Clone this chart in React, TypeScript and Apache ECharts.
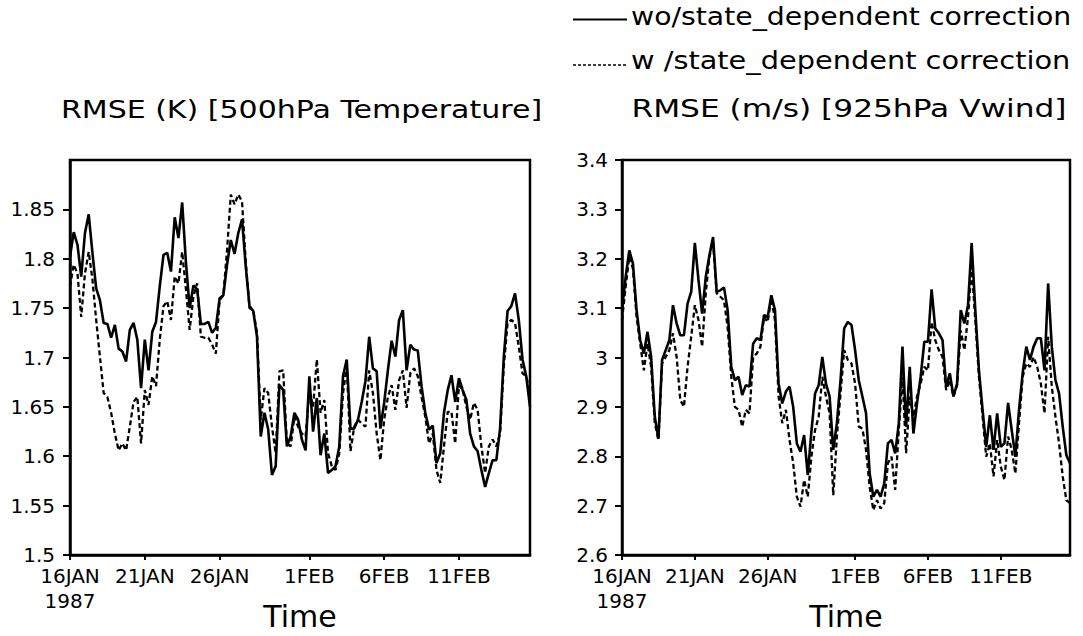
import React, { useEffect, useRef } from 'react';
import * as echarts from 'echarts';

// ---- time axis (6-hourly, 16JAN1987 00Z .. 15FEB1987 18Z) ----
const START_UTC = Date.UTC(1987, 0, 16);
const STEP_HOURS = 6;
const N_STEPS = 124;
const MONTHS = ['JAN', 'FEB', 'MAR', 'APR', 'MAY', 'JUN', 'JUL', 'AUG', 'SEP', 'OCT', 'NOV', 'DEC'];
const categories: string[] = [];
for (let i = 0; i < N_STEPS; i++) {
  const d = new Date(START_UTC + i * STEP_HOURS * 3600000);
  categories.push(
    `${String(d.getUTCHours()).padStart(2, '0')}Z${d.getUTCDate()}${MONTHS[d.getUTCMonth()]}${d.getUTCFullYear()}`
  );
}
const xTickLabels = ['16JAN', '21JAN', '26JAN', '1FEB', '6FEB', '11FEB'];
const firstYear = '1987';

const yTicksLeft = [1.5, 1.55, 1.6, 1.65, 1.7, 1.75, 1.8, 1.85];
const yTicksRight = [2.6, 2.7, 2.8, 2.9, 3.0, 3.1, 3.2, 3.3, 3.4];

const legendNames = ['wo/state_dependent correction', 'w /state_dependent correction'];
const panelTitles = ['RMSE (K) [500hPa Temperature]', 'RMSE (m/s) [925hPa Vwind]'];

// ---- 500hPa temperature RMSE (K) ----
const t500Without = [
  1.802, 1.827, 1.814, 1.782, 1.826, 1.845, 1.806, 1.770, 1.758, 1.735,
  1.734, 1.720, 1.733, 1.709, 1.706, 1.696, 1.728, 1.735, 1.718, 1.669,
  1.718, 1.687, 1.726, 1.736, 1.772, 1.804, 1.806, 1.787, 1.842, 1.821,
  1.857, 1.796, 1.750, 1.773, 1.769, 1.734, 1.734, 1.736, 1.725, 1.730,
  1.760, 1.763, 1.794, 1.819, 1.805, 1.826, 1.840, 1.792, 1.752, 1.747,
  1.721, 1.620, 1.644, 1.627, 1.581, 1.590, 1.672, 1.667, 1.610, 1.620,
  1.644, 1.637, 1.617, 1.606, 1.681, 1.625, 1.659, 1.601, 1.623, 1.583,
  1.586, 1.590, 1.610, 1.681, 1.698, 1.628, 1.628, 1.637, 1.655, 1.676,
  1.721, 1.689, 1.686, 1.628, 1.654, 1.687, 1.717, 1.701, 1.738, 1.748,
  1.687, 1.713, 1.708, 1.707, 1.671, 1.644, 1.627, 1.631, 1.593, 1.603,
  1.644, 1.667, 1.682, 1.655, 1.679, 1.667, 1.657, 1.623, 1.610, 1.605,
  1.586, 1.569, 1.583, 1.596, 1.596, 1.628, 1.701, 1.747, 1.752, 1.765,
  1.738, 1.698, 1.681, 1.650,
];
const t500With = [
  1.772, 1.794, 1.785, 1.741, 1.785, 1.807, 1.779, 1.738, 1.701, 1.664,
  1.660, 1.644, 1.623, 1.606, 1.613, 1.606, 1.630, 1.655, 1.660, 1.613,
  1.667, 1.652, 1.681, 1.671, 1.718, 1.752, 1.757, 1.738, 1.782, 1.775,
  1.807, 1.769, 1.728, 1.762, 1.775, 1.721, 1.720, 1.720, 1.713, 1.704,
  1.758, 1.763, 1.809, 1.865, 1.855, 1.865, 1.858, 1.796, 1.750, 1.748,
  1.725, 1.637, 1.669, 1.664, 1.630, 1.603, 1.686, 1.687, 1.613, 1.610,
  1.640, 1.630, 1.623, 1.620, 1.667, 1.650, 1.698, 1.644, 1.657, 1.603,
  1.590, 1.586, 1.603, 1.664, 1.691, 1.605, 1.630, 1.637, 1.633, 1.630,
  1.687, 1.664, 1.623, 1.596, 1.637, 1.660, 1.672, 1.647, 1.677, 1.687,
  1.649, 1.684, 1.689, 1.681, 1.660, 1.640, 1.613, 1.623, 1.586, 1.573,
  1.610, 1.645, 1.645, 1.613, 1.672, 1.667, 1.650, 1.637, 1.654, 1.647,
  1.610, 1.583, 1.610, 1.617, 1.610, 1.623, 1.691, 1.735, 1.738, 1.735,
  1.711, 1.684, 1.681, 1.664,
];

// ---- 925hPa V-wind RMSE (m/s) ----
const v925Without = [
  3.096, 3.163, 3.217, 3.190, 3.096, 3.035, 3.008, 3.052, 3.001, 2.880,
  2.836, 2.995, 3.015, 3.035, 3.106, 3.069, 3.045, 3.045, 3.109, 3.133,
  3.232, 3.157, 3.089, 3.163, 3.207, 3.244, 3.133, 3.136, 3.142, 3.096,
  2.981, 2.954, 2.961, 2.924, 2.944, 2.941, 3.028, 3.039, 3.035, 3.086,
  3.082, 3.126, 3.096, 2.947, 2.907, 2.931, 2.941, 2.900, 2.826, 2.809,
  2.843, 2.762, 2.850, 2.927, 2.944, 3.001, 2.947, 2.921, 2.813, 2.867,
  2.954, 3.059, 3.072, 3.066, 3.015, 2.954, 2.921, 2.887, 2.765, 2.718,
  2.732, 2.718, 2.745, 2.826, 2.833, 2.806, 2.867, 3.022, 2.860, 2.981,
  2.846, 2.907, 2.961, 3.032, 3.032, 3.138, 3.059, 3.049, 3.035, 2.941,
  2.968, 2.921, 2.947, 3.096, 3.069, 3.106, 3.232, 3.096, 2.974, 2.894,
  2.819, 2.883, 2.813, 2.887, 2.819, 2.826, 2.908, 2.853, 2.799, 2.894,
  2.968, 3.022, 2.995, 3.022, 3.039, 3.039, 2.974, 3.150, 3.022, 2.954,
  2.927, 2.860, 2.802, 2.786,
];
const v925With = [
  3.076, 3.143, 3.204, 3.180, 3.082, 3.028, 2.974, 3.028, 2.981, 2.867,
  2.833, 2.988, 3.001, 3.015, 3.049, 3.001, 2.914, 2.900, 2.981, 3.042,
  3.106, 3.076, 3.022, 3.130, 3.204, 3.234, 3.130, 3.123, 3.116, 3.062,
  2.961, 2.900, 2.894, 2.860, 2.894, 2.887, 3.001, 3.008, 3.022, 3.082,
  3.072, 3.120, 3.076, 2.921, 2.867, 2.894, 2.833, 2.786, 2.718, 2.698,
  2.752, 2.718, 2.799, 2.853, 2.880, 2.961, 2.921, 2.887, 2.721, 2.840,
  2.927, 3.015, 2.995, 2.988, 2.947, 2.860, 2.856, 2.813, 2.738, 2.691,
  2.711, 2.694, 2.705, 2.786, 2.799, 2.732, 2.853, 2.961, 2.806, 2.921,
  2.880, 2.921, 2.947, 2.981, 2.974, 3.072, 3.035, 3.015, 3.001, 2.934,
  2.954, 2.921, 2.944, 3.055, 3.015, 3.082, 3.184, 3.076, 2.961, 2.880,
  2.799, 2.826, 2.759, 2.833, 2.779, 2.752, 2.840, 2.813, 2.765, 2.867,
  2.961, 2.988, 2.981, 3.001, 2.981, 2.947, 2.887, 3.042, 2.941, 2.880,
  2.826, 2.759, 2.711, 2.705,
];

const FONT = 'DejaVu Sans';
const BLACK = '#000';

const dayMon = (cat: string) => cat.slice(3, cat.length - 4);
const isTick = (cat: string) => cat.startsWith('00Z') && xTickLabels.includes(dayMon(cat));

function makeXAxis(gridIndex: number) {
  return {
    type: 'category',
    gridIndex,
    data: categories,
    boundaryGap: false,
    axisLine: { show: true, onZero: false, lineStyle: { color: BLACK, width: 2.5 } },
    axisTick: {
      show: true,
      interval: (_i: number, v: string) => isTick(v),
      length: 5,
      lineStyle: { color: BLACK, width: 2 },
    },
    axisLabel: {
      show: true,
      interval: (_i: number, v: string) => isTick(v),
      formatter: (v: string, i: number) => (i === 0 ? `${dayMon(v)}\n${firstYear}` : dayMon(v)),
      color: BLACK,
      fontFamily: FONT,
      fontSize: 20,
      lineHeight: 25,
      margin: 8,
    },
    splitLine: { show: false },
    name: 'Time',
    nameLocation: 'middle',
    nameGap: 46,
    nameMoveOverlap: false,
    nameTextStyle: { color: BLACK, fontFamily: FONT, fontSize: 30, verticalAlign: 'top' },
  };
}

function makeYAxis(gridIndex: number, min: number, max: number, interval: number, ticks: number[], margin: number) {
  return {
    type: 'value',
    gridIndex,
    min,
    max,
    interval,
    axisLine: { show: true, onZero: false, lineStyle: { color: BLACK, width: 2.5 } },
    axisTick: { show: true, length: 7, customValues: ticks, lineStyle: { color: BLACK, width: 2 } },
    axisLabel: {
      show: true,
      customValues: ticks,
      formatter: (v: number) => String(Math.round(v * 100) / 100),
      color: BLACK,
      fontFamily: FONT,
      fontSize: 20,
      margin,
    },
    splitLine: { show: false },
  };
}

function lineSeries(name: string, data: number[], idx: number, dashed: boolean) {
  return {
    type: 'line',
    name,
    xAxisIndex: idx,
    yAxisIndex: idx,
    data,
    symbol: 'none',
    showSymbol: false,
    silent: true,
    lineStyle: dashed
      ? { color: BLACK, width: 2.3, type: [5, 3] }
      : { color: BLACK, width: 2.6, type: 'solid' },
  };
}

function textEl(text: string, x: number, y: number, size: number, align: string, scaleX: number) {
  return {
    type: 'text',
    x,
    y,
    scaleX,
    silent: true,
    style: {
      text,
      font: `${size}px "${FONT}"`,
      fill: BLACK,
      align,
      verticalAlign: 'middle',
      textAlign: align,
      textVerticalAlign: 'middle',
    },
  };
}

export default function App() {
  const ref = useRef<HTMLDivElement>(null);
  useEffect(() => {
    if (!ref.current) return;
    const chart = echarts.init(ref.current, undefined, { renderer: 'svg' });
    chart.setOption({
      animation: false,
      backgroundColor: '#fff',
      grid: [
        { left: 70, top: 160, width: 460, height: 395, show: true, borderColor: BLACK, borderWidth: 2.5, backgroundColor: 'transparent', containLabel: false, outerBoundsMode: 'none' },
        { left: 622, top: 160, width: 448, height: 395, show: true, borderColor: BLACK, borderWidth: 2.5, backgroundColor: 'transparent', containLabel: false, outerBoundsMode: 'none' },
      ],
      xAxis: [makeXAxis(0), makeXAxis(1)],
      yAxis: [
        makeYAxis(0, 1.5, 1.9, 0.05, yTicksLeft, 15),
        makeYAxis(1, 2.6, 3.4, 0.1, yTicksRight, 14),
      ],
      series: [
        lineSeries(legendNames[0], t500Without, 0, false),
        lineSeries(legendNames[1], t500With, 0, true),
        lineSeries(legendNames[0], v925Without, 1, false),
        lineSeries(legendNames[1], v925With, 1, true),
      ],
      graphic: [
        { type: 'line', silent: true, shape: { x1: 573, y1: 19.5, x2: 627, y2: 19.5 }, style: { stroke: BLACK, lineWidth: 2 } },
        { type: 'line', silent: true, shape: { x1: 573, y1: 65, x2: 627, y2: 65 }, style: { stroke: BLACK, lineWidth: 1.5, lineDash: [3, 2] } },
        textEl(legendNames[0], 631, 16.5, 24, 'left', 1.18),
        textEl(legendNames[1], 631, 60, 24, 'left', 1.2),
        textEl(panelTitles[0], 301.5, 109, 25, 'center', 1.2),
        textEl(panelTitles[1], 849, 109, 25, 'center', 1.25),
      ],
    });
    return () => chart.dispose();
  }, []);
  return (
    <div
      ref={ref}
      style={{ position: 'absolute', left: 0, top: 0, width: 1083, height: 636, background: '#fff' }}
    />
  );
}
